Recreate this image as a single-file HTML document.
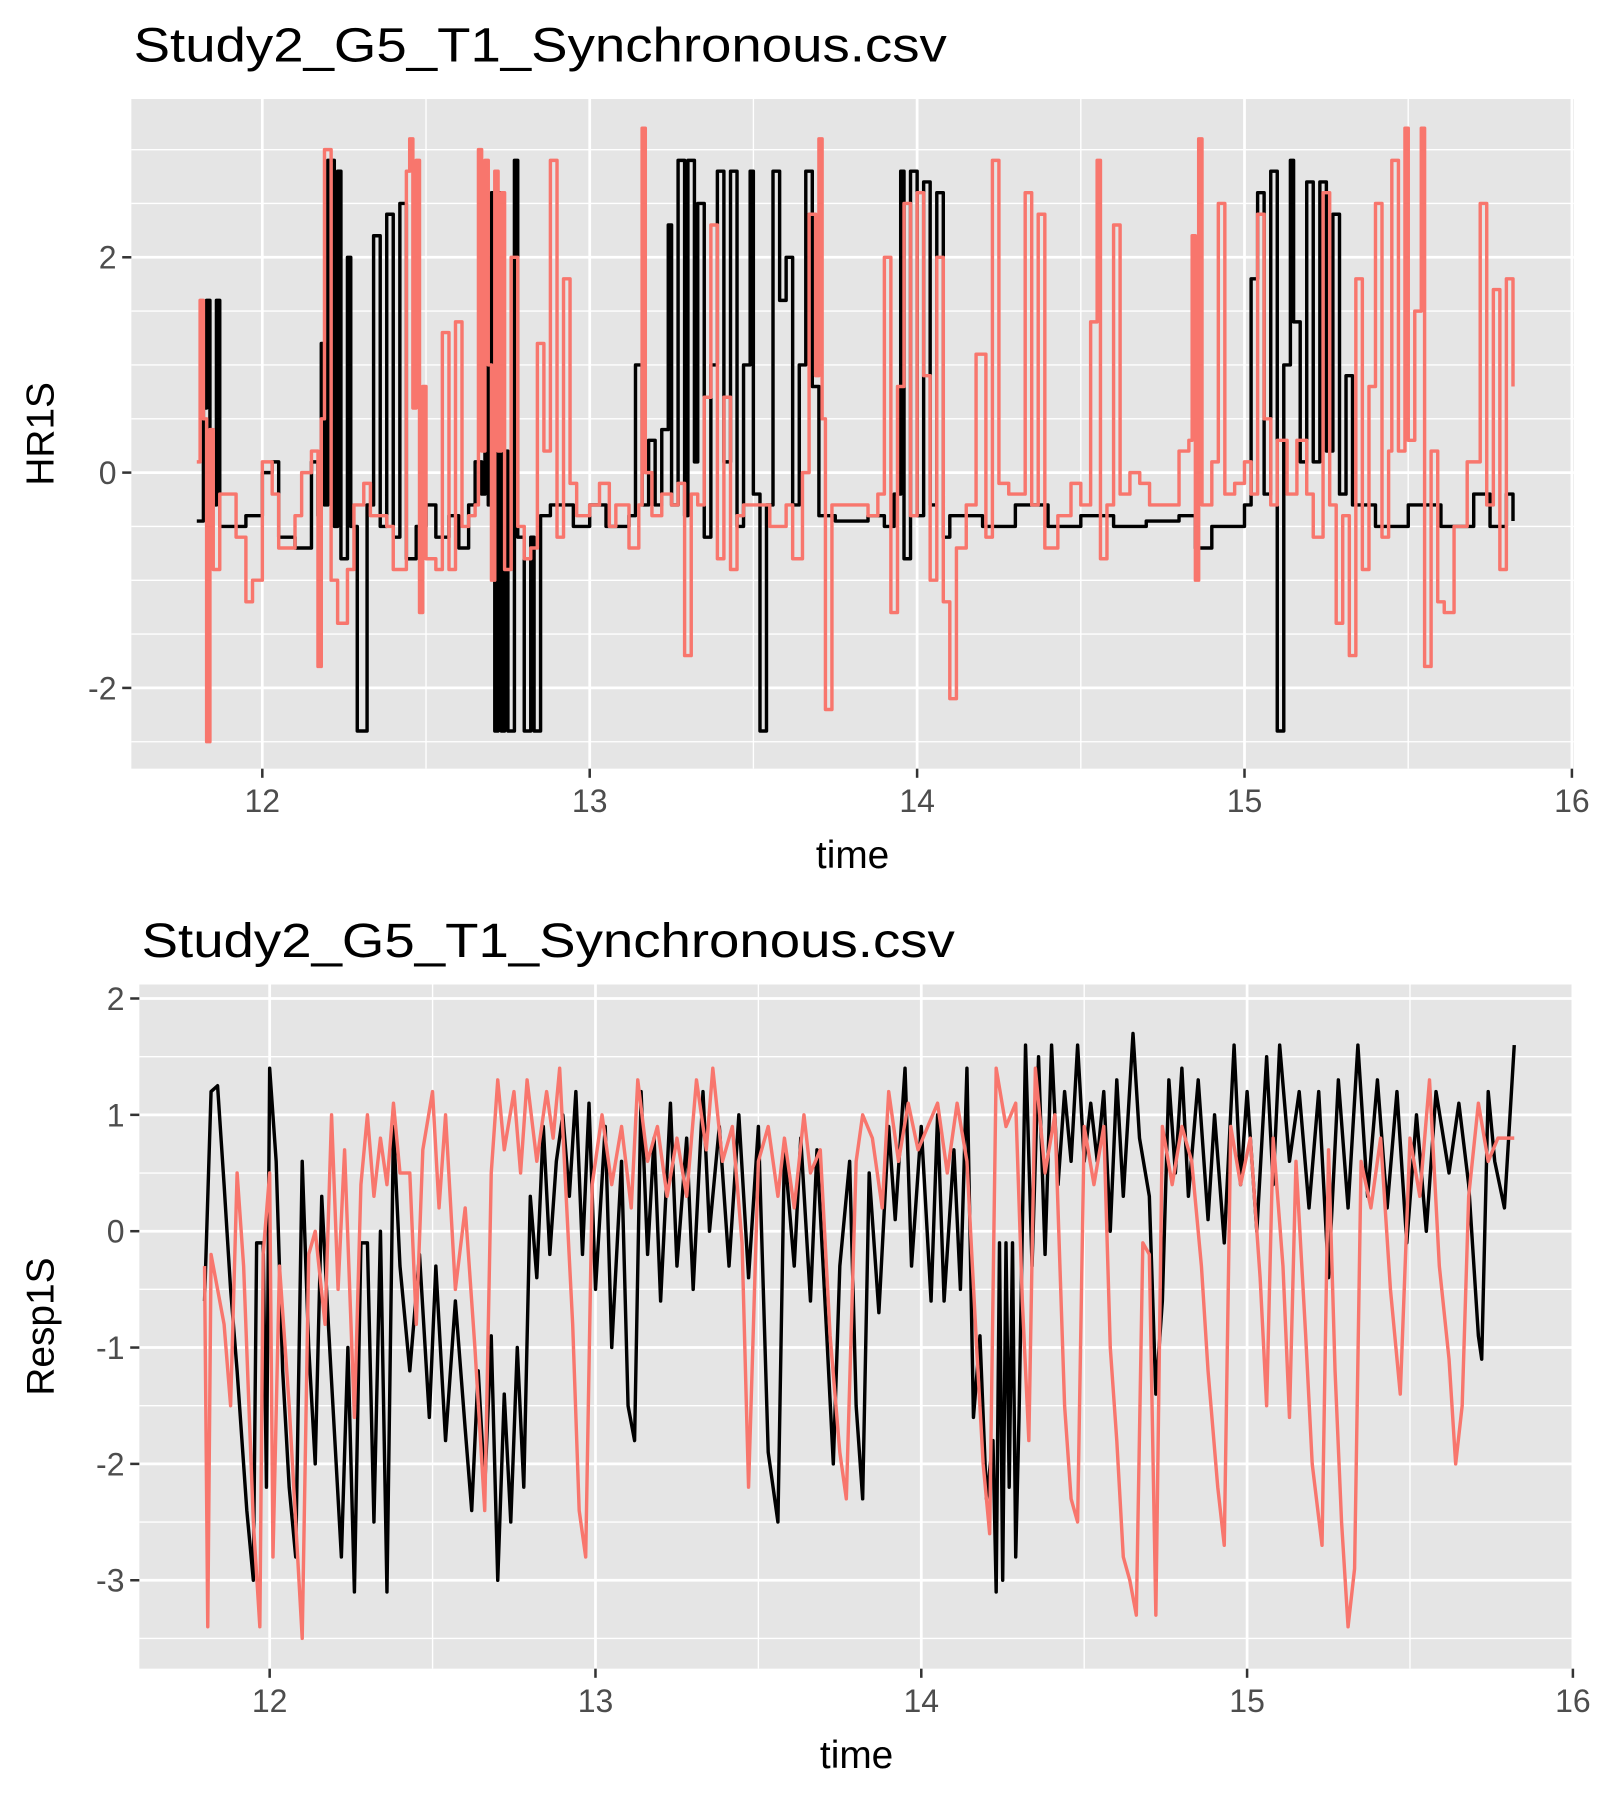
<!DOCTYPE html>
<html><head><meta charset="utf-8"><style>
html,body{margin:0;padding:0;background:#fff;}
svg{display:block;font-family:"Liberation Sans",Arial,sans-serif;}
</style></head><body>
<svg id="fig" width="1599" height="1795" viewBox="0 0 1400 1571.6" xmlns="http://www.w3.org/2000/svg"></svg>
<script>
// ---- Top panel data (HR1S) ----
const hrBlackT=[11.80,11.82,11.83,11.84,11.86,11.87,11.95,12.0,12.03,12.05,12.10,12.15,12.17,12.18,12.19,12.20,12.22,12.23,12.24,12.26,12.27,12.29,12.31,12.32,12.34,12.36,12.38,12.40,12.42,12.44,12.47,12.50,12.53,12.57,12.60,12.63,12.65,12.67,12.68,12.69,12.70,12.71,12.72,12.73,12.74,12.75,12.77,12.78,12.80,12.82,12.83,12.85,12.88,12.95,13.0,13.05,13.12,13.14,13.16,13.18,13.20,13.22,13.24,13.25,13.27,13.29,13.30,13.32,13.33,13.35,13.37,13.39,13.41,13.43,13.45,13.47,13.49,13.50,13.52,13.54,13.56,13.58,13.60,13.62,13.64,13.66,13.68,13.70,13.75,13.85,13.90,13.93,13.95,13.96,13.98,14.00,14.02,14.04,14.06,14.08,14.10,14.2,14.3,14.4,14.5,14.6,14.7,14.8,14.85,14.9,15.0,15.02,15.04,15.06,15.08,15.10,15.12,15.14,15.15,15.17,15.19,15.21,15.23,15.25,15.27,15.29,15.31,15.33,15.4,15.5,15.6,15.7,15.75,15.80,15.82];
const hrBlackV=[-0.45,0.6,1.6,-0.3,1.6,-0.5,-0.4,0.0,0.1,-0.6,-0.7,0.1,-0.4,1.2,-0.3,2.9,-0.5,2.8,-0.8,2.0,-0.5,-2.4,-2.4,-0.3,2.2,-0.5,2.4,-0.6,2.5,-0.8,-0.5,-0.3,-0.6,-0.4,-0.7,-0.3,0.1,-0.2,2.0,-0.3,2.6,-2.4,2.6,-2.4,0.2,-2.4,2.9,-0.6,-2.4,-0.6,-2.4,-0.4,-0.3,-0.5,-0.3,-0.5,-0.4,1.0,-0.3,0.3,-0.3,0.4,2.3,-0.3,2.9,-0.4,2.9,0.1,2.5,-0.6,1.0,2.8,0.1,2.8,-0.5,1.0,2.8,-0.2,-2.4,-0.3,2.8,1.6,2.0,-0.3,1.0,2.8,0.8,-0.4,-0.45,-0.4,-0.5,-0.2,2.8,-0.8,2.8,-0.4,2.7,-0.3,2.6,-0.6,-0.4,-0.5,-0.3,-0.5,-0.4,-0.5,-0.45,-0.4,-0.7,-0.5,-0.3,1.8,2.6,-0.2,2.8,-2.4,1.0,2.9,1.4,0.1,2.7,0.1,2.7,0.2,2.4,-0.2,0.9,-0.3,-0.5,-0.3,-0.5,-0.2,-0.5,-0.2,-0.45];
const hrRedT=[11.80,11.81,11.82,11.83,11.84,11.85,11.87,11.9,11.92,11.95,11.97,12.0,12.03,12.05,12.10,12.12,12.15,12.17,12.18,12.19,12.21,12.23,12.26,12.28,12.31,12.33,12.35,12.38,12.40,12.43,12.44,12.45,12.46,12.47,12.48,12.49,12.5,12.53,12.55,12.57,12.59,12.61,12.63,12.65,12.66,12.67,12.68,12.69,12.70,12.71,12.72,12.73,12.74,12.76,12.78,12.80,12.82,12.84,12.86,12.88,12.90,12.92,12.94,12.96,13.0,13.03,13.06,13.08,13.12,13.15,13.16,13.17,13.19,13.22,13.25,13.27,13.29,13.31,13.33,13.35,13.37,13.39,13.41,13.43,13.45,13.47,13.50,13.55,13.60,13.62,13.65,13.67,13.69,13.70,13.71,13.72,13.74,13.78,13.82,13.85,13.88,13.90,13.92,13.94,13.96,13.98,14.0,14.02,14.04,14.06,14.08,14.10,14.12,14.15,14.18,14.21,14.23,14.25,14.28,14.31,14.33,14.35,14.37,14.39,14.43,14.47,14.50,14.53,14.55,14.56,14.58,14.60,14.62,14.65,14.68,14.71,14.75,14.80,14.83,14.84,14.85,14.86,14.87,14.90,14.92,14.94,14.97,15.0,15.02,15.04,15.06,15.08,15.10,15.13,15.16,15.19,15.21,15.24,15.26,15.28,15.30,15.32,15.34,15.36,15.38,15.40,15.42,15.44,15.45,15.47,15.49,15.50,15.52,15.54,15.55,15.57,15.59,15.61,15.64,15.68,15.72,15.74,15.76,15.78,15.80,15.82];
const hrRedV=[0.1,1.6,0.5,-2.5,0.4,-0.9,-0.2,-0.2,-0.6,-1.2,-1.0,0.1,-0.2,-0.7,-0.4,0.0,0.2,-1.8,0.5,3.0,-1.0,-1.4,-0.9,-0.3,-0.1,-0.4,-0.4,-0.5,-0.9,-0.9,2.8,3.1,0.6,2.9,-1.3,0.8,-0.8,-0.9,1.3,-0.9,1.4,-0.5,-0.4,-0.3,3.0,0.2,2.9,1.0,-1.0,2.8,0.2,2.6,-0.9,2.0,-0.5,-0.8,-0.7,1.2,0.2,2.9,-0.6,1.8,-0.1,-0.4,-0.3,-0.1,-0.5,-0.3,-0.7,-0.3,3.2,0.0,-0.4,-0.2,-0.3,-0.1,-1.7,-0.2,-0.3,0.7,2.3,-0.8,0.7,-0.9,-0.4,-0.3,-0.3,-0.5,-0.3,-0.8,0.0,2.4,0.9,3.1,0.5,-2.2,-0.3,-0.3,-0.3,-0.4,-0.2,2.0,-1.3,0.8,2.5,-0.4,2.6,0.9,-1.0,2.0,-1.2,-2.1,-0.7,-0.3,1.1,-0.6,2.9,-0.1,-0.2,-0.2,2.6,-0.3,2.4,-0.7,-0.4,-0.1,-0.3,1.4,2.9,-0.8,-0.3,2.3,-0.2,0.0,-0.1,-0.3,-0.3,0.2,0.3,2.2,-1.0,3.1,-0.3,0.1,2.5,-0.2,-0.1,0.1,-0.2,2.4,0.5,-0.3,0.3,-0.2,0.3,-0.2,-0.6,2.6,-0.3,-1.4,-0.4,-1.7,1.8,-0.9,0.8,2.5,-0.6,0.2,2.9,0.2,3.2,0.3,1.5,3.2,-1.8,0.2,-1.2,-1.3,-0.5,0.1,2.5,-0.3,1.7,-0.9,1.8,0.8];
// ---- Bottom panel data (Resp1S) ----
const rsBlackT=[11.80,11.82,11.84,11.86,11.88,11.90,11.93,11.95,11.96,11.98,11.99,12.0,12.02,12.04,12.06,12.08,12.10,12.12,12.14,12.16,12.18,12.20,12.22,12.24,12.26,12.28,12.30,12.32,12.34,12.36,12.38,12.40,12.43,12.46,12.49,12.51,12.54,12.57,12.60,12.62,12.64,12.66,12.68,12.70,12.72,12.74,12.76,12.78,12.80,12.82,12.84,12.86,12.88,12.90,12.92,12.94,12.96,12.98,13.0,13.03,13.05,13.08,13.10,13.12,13.14,13.16,13.18,13.20,13.23,13.25,13.28,13.30,13.33,13.35,13.38,13.41,13.44,13.47,13.50,13.53,13.56,13.58,13.61,13.63,13.66,13.68,13.71,13.73,13.75,13.78,13.80,13.82,13.84,13.87,13.90,13.92,13.95,13.97,14.0,14.03,14.05,14.07,14.10,14.12,14.14,14.16,14.18,14.20,14.22,14.23,14.24,14.25,14.26,14.27,14.28,14.29,14.30,14.32,14.34,14.36,14.38,14.40,14.42,14.44,14.46,14.48,14.50,14.52,14.54,14.56,14.58,14.60,14.62,14.65,14.67,14.70,14.72,14.74,14.76,14.78,14.80,14.82,14.85,14.88,14.90,14.93,14.96,14.98,15.0,15.03,15.06,15.08,15.10,15.13,15.16,15.19,15.22,15.25,15.28,15.31,15.34,15.37,15.40,15.43,15.46,15.49,15.52,15.55,15.58,15.62,15.65,15.68,15.71,15.72,15.74,15.76,15.79,15.82];
const rsBlackV=[-0.6,1.2,1.25,0.4,-0.5,-1.2,-2.4,-3.0,-0.1,-0.1,-2.2,1.4,0.6,-1.2,-2.2,-2.8,0.6,-1.0,-2.0,0.3,-0.8,-1.8,-2.8,-1.0,-3.1,-0.1,-0.1,-2.5,0.0,-3.1,0.9,-0.3,-1.2,-0.2,-1.6,-0.3,-1.8,-0.6,-1.7,-2.4,-1.2,-2.2,-0.9,-3.0,-1.4,-2.5,-1.0,-2.2,0.3,-0.4,0.9,-0.2,0.6,1.0,0.3,1.2,-0.2,1.1,-0.5,0.9,-1.0,0.6,-1.5,-1.8,1.2,-0.2,0.8,-0.6,1.1,-0.3,0.8,-0.5,1.2,0.0,0.9,-0.3,1.0,-0.4,0.9,-1.9,-2.5,0.7,-0.3,0.8,-0.6,0.7,-0.9,-2.0,-0.3,0.6,-1.5,-2.3,0.5,-0.7,0.9,0.1,1.4,-0.3,0.9,-0.6,1.0,-0.6,0.7,-0.5,1.4,-1.6,-0.9,-2.3,-1.8,-3.1,-0.1,-3.0,-0.1,-2.2,-0.1,-2.8,-1.6,1.6,-0.3,1.5,-0.2,1.6,0.4,1.2,0.6,1.6,0.6,1.1,0.6,1.2,0.0,1.3,0.3,1.7,0.8,0.3,-1.4,-0.6,1.3,0.5,1.4,0.3,1.3,0.1,1.0,-0.1,1.6,0.4,1.2,0.0,1.5,0.4,1.6,0.6,1.2,0.2,1.2,-0.4,1.3,0.2,1.6,0.3,1.3,0.2,1.2,-0.1,1.0,0.0,1.2,0.5,1.1,0.4,-0.9,-1.1,1.2,0.6,0.2,1.6];
const rsRedT=[11.80,11.81,11.82,11.84,11.86,11.88,11.90,11.92,11.95,11.97,11.98,12.0,12.01,12.03,12.06,12.08,12.10,12.12,12.14,12.17,12.19,12.21,12.23,12.26,12.28,12.30,12.32,12.34,12.36,12.38,12.40,12.43,12.45,12.47,12.50,12.52,12.54,12.57,12.60,12.63,12.66,12.68,12.70,12.72,12.75,12.77,12.79,12.82,12.85,12.87,12.89,12.91,12.93,12.95,12.97,12.99,13.02,13.05,13.08,13.11,13.13,13.16,13.19,13.22,13.25,13.28,13.31,13.34,13.36,13.39,13.42,13.45,13.47,13.50,13.53,13.56,13.58,13.61,13.64,13.66,13.69,13.72,13.75,13.77,13.80,13.82,13.85,13.88,13.90,13.93,13.96,13.99,14.02,14.05,14.08,14.11,14.14,14.17,14.19,14.21,14.23,14.26,14.29,14.31,14.33,14.35,14.38,14.41,14.44,14.46,14.48,14.50,14.53,14.56,14.58,14.60,14.62,14.64,14.66,14.68,14.70,14.72,14.74,14.77,14.80,14.83,14.86,14.88,14.91,14.93,14.95,14.98,15.01,15.04,15.06,15.08,15.11,15.13,15.15,15.18,15.20,15.23,15.25,15.27,15.29,15.31,15.33,15.35,15.38,15.41,15.44,15.47,15.50,15.53,15.56,15.59,15.62,15.64,15.66,15.68,15.71,15.74,15.77,15.80,15.82];
const rsRedV=[-0.3,-3.4,-0.2,-0.5,-0.8,-1.5,0.5,-0.3,-2.5,-3.4,-0.2,0.5,-2.8,-0.3,-1.5,-2.5,-3.5,-0.2,0.0,-0.8,1.0,-0.5,0.7,-1.6,0.4,1.0,0.3,0.8,0.4,1.1,0.5,0.5,-0.8,0.7,1.2,0.2,1.0,-0.5,0.2,-1.0,-2.4,0.5,1.3,0.7,1.2,0.5,1.3,0.6,1.2,0.8,1.4,0.3,-0.8,-2.4,-2.8,0.4,1.0,0.4,0.9,0.2,1.3,0.6,0.9,0.3,0.8,0.3,1.3,0.7,1.4,0.6,0.9,-0.1,-2.2,0.6,0.9,0.3,0.8,0.2,1.0,0.5,0.7,-0.9,-1.9,-2.3,0.6,1.0,0.8,0.2,1.2,0.6,1.1,0.7,0.9,1.1,0.5,1.1,0.6,-1.0,-2.0,-2.6,1.4,0.9,1.1,-0.6,-1.8,1.4,0.5,1.0,-1.5,-2.3,-2.5,0.9,0.4,0.9,-1.0,-1.8,-2.8,-3.0,-3.3,-0.1,-0.2,-3.3,0.9,0.4,0.9,0.6,-0.3,-1.2,-2.2,-2.7,0.9,0.4,0.8,-0.4,-1.5,0.8,-0.3,-1.6,0.6,-0.9,-2.0,-2.7,0.7,-1.2,-2.5,-3.4,-2.9,0.6,0.2,0.8,-0.5,-1.4,0.8,0.3,1.3,-0.3,-1.1,-2.0,-1.5,0.3,1.1,0.6,0.8,0.8,0.8];
const xTicks=[12,13,14,15,16];
const hrYTicks=[-2,0,2];
const rsYTicks=[-3,-2,-1,0,1,2];

const NS='http://www.w3.org/2000/svg';
const svg=document.getElementById('fig');
function mk(tag,attrs,parent,text){const e=document.createElementNS(NS,tag);for(const k in attrs)e.setAttribute(k,attrs[k]);if(text!==undefined)e.textContent=text;(parent||svg).appendChild(e);return e;}

function panel(cfg){
  const g=mk('g',{});
  
  
  const L=cfg.left,R=cfg.right,T=cfg.top,B=cfg.bottom;
  const xs=t=>L+(t-cfg.xmin)/(cfg.xmax-cfg.xmin)*(R-L);
  const ys=v=>B-(v-cfg.ymin)/(cfg.ymax-cfg.ymin)*(B-T);
  const bg=mk('rect',{x:L,y:T,width:R-L,height:B-T,fill:'#e5e5e5'},g);
  
  
  for(let v=Math.ceil(cfg.ymin*2)/2;v<=cfg.ymax;v+=0.5){
    if(Math.abs(v%cfg.ystep)<1e-9)continue;
    const yy=ys(v);
    const ln=mk('line',{x1:L,x2:R,y1:yy,y2:yy,stroke:'#fff','stroke-width':1.2},g);
    
    
  }
  for(let t=11.5;t<=16;t+=1){
    const xx=xs(t);if(xx<L||xx>R)continue;
    const ln=mk('line',{x1:xx,x2:xx,y1:T,y2:B,stroke:'#fff','stroke-width':1.2},g);
    
    
  }
  cfg.yTicks.forEach(v=>{
    const yy=ys(v);
    const ln=mk('line',{x1:L,x2:R,y1:yy,y2:yy,stroke:'#fff','stroke-width':2.4},g);
    
    
    const tk=mk('line',{x1:L-8,x2:L,y1:yy,y2:yy,stroke:'#333','stroke-width':2.2},g);
    
    
    const tx=mk('text',{x:L-13,y:yy+10,'text-anchor':'end','font-size':28,fill:'#4d4d4d'},g,String(v));
    
    
  });
  xTicks.forEach(t=>{
    const xx=xs(t);
    if(xx<=R+0.5){
      const ln=mk('line',{x1:xx,x2:xx,y1:T,y2:B,stroke:'#fff','stroke-width':2.4},g);
      
      
    }
    const tk=mk('line',{x1:xx,x2:xx,y1:B,y2:B+8,stroke:'#333','stroke-width':2.2},g);
    
    
    const tx=mk('text',{x:xx,y:B+38,'text-anchor':'middle','font-size':28,fill:'#4d4d4d'},g,String(t));
    
    
  });
  cfg.series.forEach(s=>{
    let d='';
    s.t.forEach((t,i)=>{
      const X=xs(t).toFixed(1),Y=ys(s.v[i]).toFixed(1);
      if(i===0)d+='M'+X+','+Y;
      else if(cfg.step)d+='H'+X+'V'+Y;
      else d+='L'+X+','+Y;
    });
    const p=mk('path',{d:d,fill:'none',stroke:s.color,'stroke-width':3,'stroke-linejoin':'round'},g);
    
    
  });
  const ti=mk('text',{x:cfg.titleX,y:cfg.titleY,'font-size':42,fill:'#000',textLength:712,lengthAdjust:'spacingAndGlyphs'},g,'Study2_G5_T1_Synchronous.csv');
  
  
  const xt=mk('text',{x:(L+R)/2,y:B+87,'text-anchor':'middle','font-size':34,fill:'#000'},g,'time');
  
  
  const cy=(T+B)/2;
  const yt=mk('text',{x:0,y:0,'text-anchor':'middle','font-size':34,fill:'#000',transform:'translate(47,'+cy+') rotate(-90)'},g,cfg.ylabel);
  
  
}

panel({name:'hr1s-panel',left:115,right:1378,top:86.7,bottom:673,xmin:11.6,xmax:16.006,step:true,
  ymin:-2.75,ymax:3.47,ystep:2,yTicks:hrYTicks,ylabel:'HR1S',titleX:117,titleY:54,
  series:[{t:hrBlackT,v:hrBlackV,color:'#000',name:'hr1s-series-black'},{t:hrRedT,v:hrRedV,color:'#F8766D',name:'hr1s-series-red'}]});
panel({name:'resp1s-panel',left:122,right:1378,top:862,bottom:1461,xmin:11.6,xmax:16.003,step:false,
  ymin:-3.76,ymax:2.12,ystep:1,yTicks:rsYTicks,ylabel:'Resp1S',titleX:124,titleY:838,
  series:[{t:rsBlackT,v:rsBlackV,color:'#000',name:'resp1s-series-black'},{t:rsRedT,v:rsRedV,color:'#F8766D',name:'resp1s-series-red'}]});
</script>
</body></html>
